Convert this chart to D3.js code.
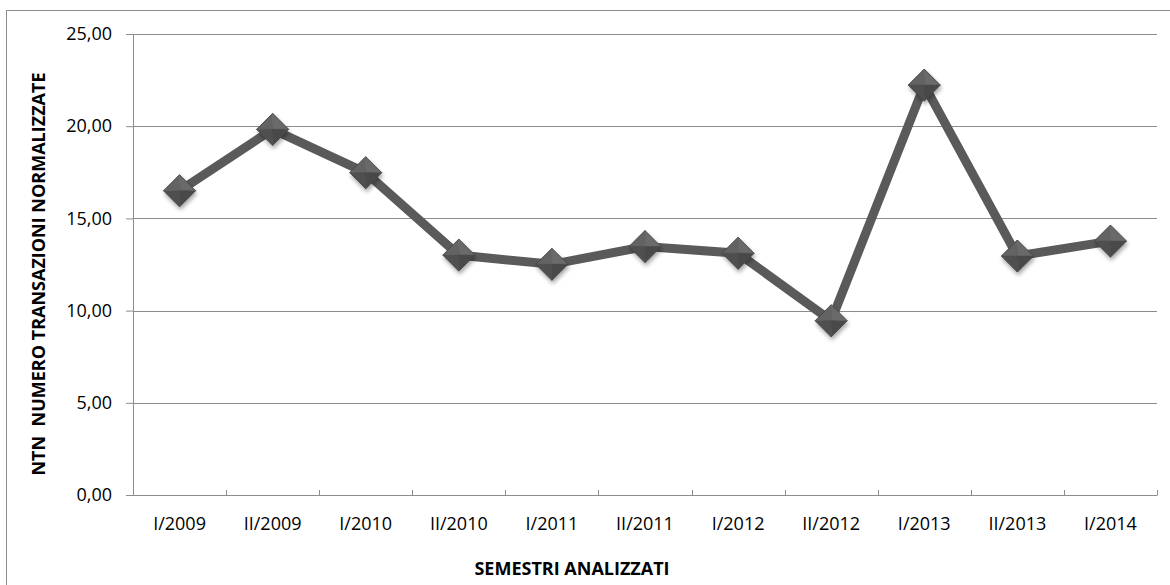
<!DOCTYPE html>
<html>
<head>
<meta charset="utf-8">
<script src="https://cdn.jsdelivr.net/npm/d3@7"></script>
<style>
  html, body { margin: 0; padding: 0; background: #fff; }
  svg { display: block; }
  text { font-family: "Open Sans", "Noto Sans", sans-serif; fill: #000; }
</style>
</head>
<body>
<svg id="chart" width="1170" height="585"></svg>
<script>
// Semesters on the category axis
const semesters = ["I/2009", "II/2009", "I/2010", "II/2010", "I/2011", "II/2011",
                   "I/2012", "II/2012", "I/2013", "II/2013", "I/2014"];
// Normalised number of transactions per semester
const ntnValues = [16.5, 19.83, 17.48, 13.01, 12.51, 13.47, 13.11, 9.45, 22.23, 12.96, 13.77];
// Value axis ticks
const yTicks = [0, 5, 10, 15, 20, 25];
const yTitle = "NTN  NUMERO TRANSAZIONI NORMALIZZATE";
const xTitle = "SEMESTRI ANALIZZATI";

const svg = d3.select("#chart");
const plot = { left: 133, right: 1157, top: 34, bottom: 495 };

const x = d3.scaleBand().domain(semesters).range([plot.left, plot.right]).padding(0);
const y = d3.scaleLinear().domain([0, 25]).range([plot.bottom, plot.top]);
const itFmt = v => d3.format(".2f")(v).replace(".", ",");

const gridColor = "#8c8c8c";

// Outer chart frame (only the top and left edges fall inside the page)
svg.append("rect")
  .attr("x", 6.5).attr("y", 10.5)
  .attr("width", 1200).attr("height", 620)
  .attr("fill", "none").attr("stroke", "#8c8c8c").attr("stroke-width", 1);

// Defs: drop shadow for markers
const defs = svg.append("defs");
const shadow = defs.append("filter").attr("id", "mshadow")
  .attr("x", "-50%").attr("y", "-50%").attr("width", "200%").attr("height", "200%");
shadow.append("feGaussianBlur").attr("in", "SourceAlpha").attr("stdDeviation", 2);
shadow.append("feOffset").attr("dx", 1).attr("dy", 3).attr("result", "off");
shadow.append("feComponentTransfer").append("feFuncA").attr("type", "linear").attr("slope", 0.35);
const merge = shadow.append("feMerge");
merge.append("feMergeNode");
merge.append("feMergeNode").attr("in", "SourceGraphic");

// Horizontal gridlines + value axis
const yAxis = d3.axisLeft(y).tickValues(yTicks).tickSize(7).tickFormat(itFmt).tickPadding(14);
const gy = svg.append("g").attr("transform", `translate(${plot.left},0)`).call(yAxis);
gy.select(".domain").attr("stroke", gridColor).attr("d", `M0.5,${plot.top}V${plot.bottom}`);
gy.selectAll(".tick line").attr("stroke", gridColor);
gy.selectAll(".tick text").style("font-size", "18px").attr("fill", "#000");

svg.append("g").selectAll("line").data(yTicks.filter(d => d > 0)).join("line")
  .attr("x1", plot.left).attr("x2", plot.right)
  .attr("y1", d => Math.round(y(d)) + 0.5).attr("y2", d => Math.round(y(d)) + 0.5)
  .attr("stroke", gridColor).attr("stroke-width", 1);

// Category axis with tick marks between categories, pointing up
const gx = svg.append("g").attr("transform", `translate(0,${plot.bottom})`);
gx.append("line")
  .attr("x1", plot.left).attr("x2", plot.right)
  .attr("y1", 0.5).attr("y2", 0.5).attr("stroke", gridColor);
const bounds = semesters.map(s => x(s)).concat([x(semesters[semesters.length - 1]) + x.bandwidth()]);
gx.selectAll("line.tk").data(bounds.slice(1)).join("line").attr("class", "tk")
  .attr("x1", d => Math.round(d) + 0.5).attr("x2", d => Math.round(d) + 0.5)
  .attr("y1", -5).attr("y2", 0.5).attr("stroke", gridColor);
gx.selectAll("text").data(semesters).join("text")
  .attr("x", d => x(d) + x.bandwidth() / 2).attr("y", 35)
  .attr("text-anchor", "middle").style("font-size", "18px").text(d => d);

// Axis titles
svg.append("text")
  .attr("x", 572).attr("y", 575).attr("text-anchor", "middle")
  .style("font-size", "18px").style("font-weight", "bold").text(xTitle);
svg.append("text")
  .attr("transform", `translate(45,274) rotate(-90)`).attr("text-anchor", "middle")
  .style("font-size", "18px").style("font-weight", "bold")
  .style("white-space", "pre").text(yTitle);

// Series line
const cx = d => x(d) + x.bandwidth() / 2;
const pts = semesters.map((s, i) => [cx(s), y(ntnValues[i])]);
svg.append("path")
  .attr("d", d3.line()(pts))
  .attr("fill", "none").attr("stroke", "#5a5a5a").attr("stroke-width", 9)
  .attr("stroke-linejoin", "miter");

// Diamond markers with bevelled facets
const r = 16;
const mk = svg.append("g").selectAll("g").data(pts).join("g")
  .attr("transform", d => `translate(${d[0]},${d[1]})`)
  .attr("filter", "url(#mshadow)");
const facets = [
  { pts: [[0, -r], [r, 0], [0, 0]], fill: "#6a6a6a" },
  { pts: [[0, -r], [-r, 0], [0, 0]], fill: "#636363" },
  { pts: [[-r, 0], [0, r], [0, 0]], fill: "#505050" },
  { pts: [[r, 0], [0, r], [0, 0]], fill: "#4a4a4a" }
];
mk.selectAll("path").data(facets).join("path")
  .attr("d", f => "M" + f.pts.map(p => p.join(",")).join("L") + "Z")
  .attr("fill", f => f.fill).attr("stroke", f => f.fill).attr("stroke-width", 0.5);
mk.append("path")
  .attr("d", `M0,${-r}L${r},0L0,${r}L${-r},0Z`)
  .attr("fill", "none").attr("stroke", "#444").attr("stroke-width", 0.8);
</script>
</body>
</html>
